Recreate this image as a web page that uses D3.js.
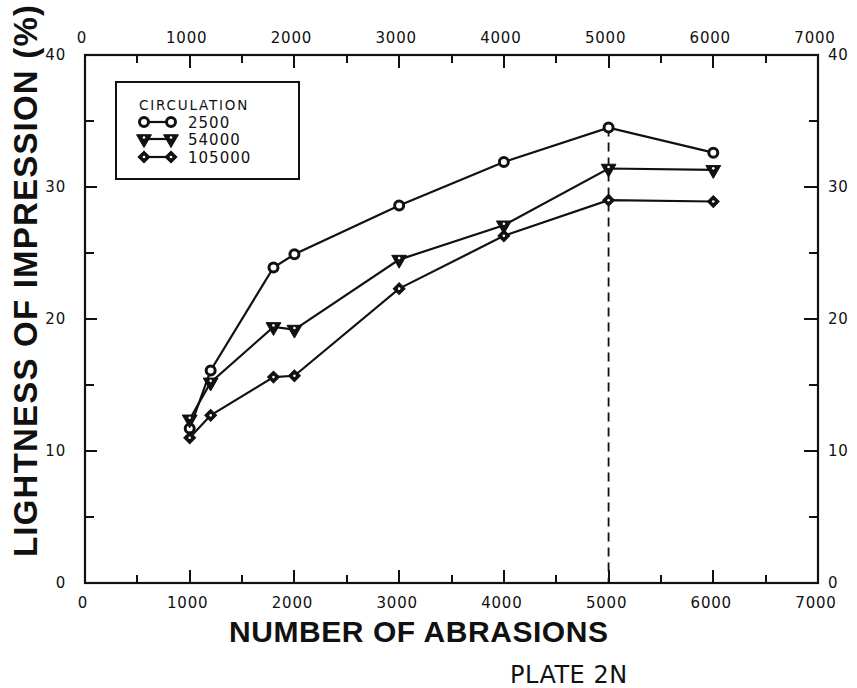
<!DOCTYPE html>
<html>
<head>
<meta charset="utf-8">
<script src="https://cdn.jsdelivr.net/npm/d3@7"></script>
<style>
  html, body { margin: 0; padding: 0; background: #fff; }
  svg { display: block; }
</style>
</head>
<body>
<div id="chart"></div>
<script>
// Data
const abrasions = [1000, 1200, 1800, 2000, 3000, 4000, 5000, 6000];
const circ2500 = [11.7, 16.1, 23.9, 24.9, 28.6, 31.9, 34.5, 32.6];
const circ54000 = [12.4, 15.2, 19.4, 19.2, 24.5, 27.1, 31.4, 31.3];
const circ105000 = [11.0, 12.7, 15.6, 15.7, 22.3, 26.3, 29.0, 28.9];
const seriesNames = ["2500", "54000", "105000"];
const seriesMarkers = ["circle", "triangle", "diamond"];
const xTicks = [0, 1000, 2000, 3000, 4000, 5000, 6000, 7000];
const yTicks = [0, 10, 20, 30, 40];
const markerAt = 5000; // dashed reference line

const width = 857;
const height = 688;

const svg = d3.select("#chart")
  .append("svg")
  .attr("width", width)
  .attr("height", height);

// scales (plot frame)
const x = d3.scaleLinear().domain([0, 7000]).range([85, 818]);
const y = d3.scaleLinear().domain([0, 40]).range([583, 55]);

const ink = "#111";
const tickFont = "'DejaVu Sans', sans-serif";

// frame
svg.append("rect")
  .attr("x", x(0)).attr("y", y(40))
  .attr("width", x(7000) - x(0)).attr("height", y(0) - y(40))
  .attr("fill", "none").attr("stroke", ink).attr("stroke-width", 2.2);

// inward ticks on all four sides: majors every 1000 / 10, minors halfway
const xMajor = xTicks.slice(1, -1);
const xMinor = d3.range(500, 7000, 1000);
const yMajor = yTicks.slice(1, -1);
const yMinor = d3.range(5, 40, 10);

const tickG = svg.append("g")
  .attr("stroke", ink).attr("stroke-width", 2);

function xTickLines(vals, len) {
  [[y(0), -1], [y(40), 1]].forEach(([y0, dir]) => {
    tickG.selectAll(null).data(vals).enter().append("line")
      .attr("x1", d => Math.round(x(d))).attr("x2", d => Math.round(x(d)))
      .attr("y1", y0).attr("y2", y0 + dir * len);
  });
}
function yTickLines(vals, lenL, lenR) {
  tickG.selectAll(null).data(vals).enter().append("line")
    .attr("x1", x(0)).attr("x2", x(0) + lenL)
    .attr("y1", d => Math.round(y(d))).attr("y2", d => Math.round(y(d)));
  tickG.selectAll(null).data(vals).enter().append("line")
    .attr("x1", x(7000)).attr("x2", x(7000) - lenR)
    .attr("y1", d => Math.round(y(d))).attr("y2", d => Math.round(y(d)));
}
xTickLines(xMajor, 13);
xTickLines(xMinor, 8);
yTickLines(yMajor, 12, 14);
yTickLines(yMinor, 9, 9);

// tick labels
const lab = svg.append("g")
  .attr("font-family", tickFont)
  .attr("font-size", 15)
  .attr("letter-spacing", 0.8)
  .attr("fill", ink);

lab.selectAll(".xb").data(xTicks).enter().append("text")
  .attr("x", d => x(d) - 2).attr("y", 608)
  .attr("text-anchor", "middle").text(d => d);
lab.selectAll(".xt").data(xTicks).enter().append("text")
  .attr("x", d => x(d) - 3).attr("y", 43)
  .attr("text-anchor", "middle").text(d => d);
lab.selectAll(".yl").data(yTicks).enter().append("text")
  .attr("x", 66).attr("y", d => y(d) + 5)
  .attr("text-anchor", "end").text(d => d);
lab.selectAll(".yr").data(yTicks).enter().append("text")
  .attr("x", 828).attr("y", d => y(d) + 5)
  .attr("text-anchor", "start").text(d => d);

// dashed line at 5000 abrasions
svg.append("line")
  .attr("x1", x(markerAt)).attr("x2", x(markerAt))
  .attr("y1", y(circ2500[abrasions.indexOf(markerAt)])).attr("y2", y(0))
  .attr("stroke", ink).attr("stroke-width", 1.8)
  .attr("stroke-dasharray", "9,6");

// markers
function drawMarker(g, type, cx, cy) {
  if (type === "circle") {
    g.append("circle").attr("cx", cx).attr("cy", cy).attr("r", 4.5)
      .attr("fill", "#fff").attr("stroke", ink).attr("stroke-width", 3);
  } else if (type === "triangle") {
    g.append("path")
      .attr("d", d3.symbol().type(d3.symbolTriangle).size(95)())
      .attr("transform", `translate(${cx},${cy}) rotate(180)`)
      .attr("fill", ink).attr("stroke", ink).attr("stroke-width", 1);
    g.append("circle").attr("cx", cx).attr("cy", cy - 1.5).attr("r", 1.3).attr("fill", "#fff");
  } else {
    g.append("path")
      .attr("d", d3.symbol().type(d3.symbolSquare).size(70)())
      .attr("transform", `translate(${cx},${cy}) rotate(45)`)
      .attr("fill", ink).attr("stroke", ink).attr("stroke-width", 1);
    g.append("circle").attr("cx", cx).attr("cy", cy).attr("r", 1.3).attr("fill", "#fff");
  }
}

const line = d3.line().x(d => x(d[0])).y(d => y(d[1]));
[circ2500, circ54000, circ105000].forEach((vals, i) => {
  const pts = abrasions.map((a, j) => [a, vals[j]]);
  svg.append("path").datum(pts)
    .attr("d", line)
    .attr("fill", "none").attr("stroke", ink).attr("stroke-width", 2.2);
  const g = svg.append("g");
  pts.forEach(p => drawMarker(g, seriesMarkers[i], x(p[0]), y(p[1])));
});

// legend
const leg = svg.append("g");
leg.append("rect")
  .attr("x", 116).attr("y", 82).attr("width", 183).attr("height", 97)
  .attr("fill", "#fff").attr("stroke", ink).attr("stroke-width", 2);
leg.append("text")
  .attr("x", 139).attr("y", 110)
  .attr("font-family", tickFont).attr("font-size", 13.5)
  .attr("letter-spacing", 1.8).attr("fill", ink)
  .text("CIRCULATION");
const rowY = [122, 139, 157];
seriesNames.forEach((name, i) => {
  leg.append("line")
    .attr("x1", 143).attr("x2", 171).attr("y1", rowY[i]).attr("y2", rowY[i])
    .attr("stroke", ink).attr("stroke-width", 2.2);
  drawMarker(leg, seriesMarkers[i], 144, rowY[i]);
  drawMarker(leg, seriesMarkers[i], 171, rowY[i]);
  leg.append("text")
    .attr("x", 188).attr("y", rowY[i] + 6)
    .attr("font-family", tickFont).attr("font-size", 15)
    .attr("letter-spacing", 1)
    .attr("fill", ink).text(name);
});

// axis titles, stretched to the reference width
function fitText(t, target) {
  const n = t.text().length;
  const w = t.node().getComputedTextLength();
  t.attr("letter-spacing", (target - w) / (n - 1));
}

const xt = svg.append("text")
  .attr("x", 229).attr("y", 642)
  .attr("font-family", "'Liberation Sans', Arial, sans-serif")
  .attr("font-weight", "bold").attr("font-size", 30)
  .attr("fill", ink)
  .text("NUMBER OF ABRASIONS");
fitText(xt, 379);

const yt = svg.append("text")
  .attr("transform", "translate(37,557) rotate(-90)")
  .attr("font-family", "'Liberation Sans', Arial, sans-serif")
  .attr("font-weight", "bold").attr("font-size", 33)
  .attr("fill", ink)
  .text("LIGHTNESS OF IMPRESSION (%)");
fitText(yt, 552);

svg.append("text")
  .attr("x", 510).attr("y", 683)
  .attr("font-family", tickFont).attr("font-size", 24)
  .attr("letter-spacing", 0.5)
  .attr("fill", ink)
  .text("PLATE 2N");
</script>
</body>
</html>
